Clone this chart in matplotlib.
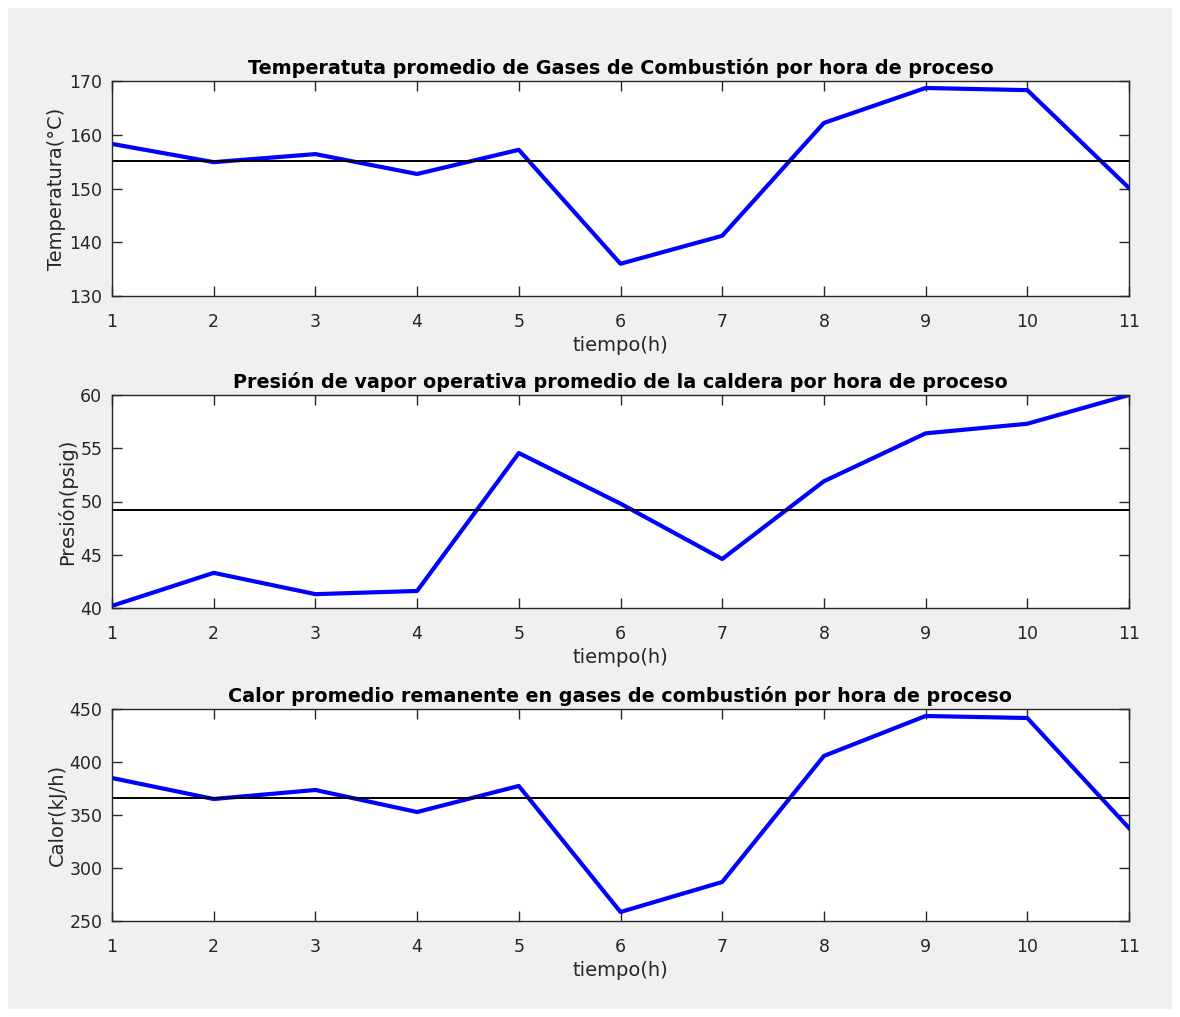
import numpy as np
import matplotlib
matplotlib.use("Agg")
import matplotlib.pyplot as plt
from matplotlib.patches import Rectangle

# data
horas = [1, 2, 3, 4, 5, 6, 7, 8, 9, 10, 11]
temperatura = [158.3, 154.9, 156.4, 152.7, 157.2, 136.0, 141.2, 162.2, 168.7, 168.3, 150.1]
presion = [40.2, 43.3, 41.3, 41.6, 54.55, 49.8, 44.6, 51.9, 56.4, 57.3, 60.0]
calor = [384.9, 365.1, 373.6, 352.8, 377.4, 258.5, 286.8, 405.7, 443.4, 441.5, 337.7]

titulos = [
    "Temperatuta promedio de Gases de Combustión por hora de proceso",
    "Presión de vapor operativa promedio de la caldera por hora de proceso",
    "Calor promedio remanente en gases de combustión por hora de proceso",
]
ylabels = ["Temperatura(°C)", "Presión(psig)", "Calor(kJ/h)"]
ylims = [(130, 170), (40, 60), (250, 450)]
yticks = [[130, 140, 150, 160, 170], [40, 45, 50, 55, 60], [250, 300, 350, 400, 450]]

TXT = "#262626"
plt.rcParams["font.family"] = ["DejaVu Sans"]

W, H = 1180, 1017
fig = plt.figure(figsize=(W / 100, H / 100), dpi=100, facecolor="white")
fig.patches.append(Rectangle((8 / W, 8 / H), 1 - 16 / W, 1 - 16 / H,
                             transform=fig.transFigure, facecolor="#f0f0f0",
                             edgecolor="none", zorder=-10))

# axes boxes in pixels (top, bottom)
cajas = [(81, 296), (395, 608), (709, 921)]
left, right = 112, 1129

for (top, bot), y, tit, yl, lim, yt in zip(cajas, [temperatura, presion, calor],
                                           titulos, ylabels, ylims, yticks):
    ax = fig.add_axes([left / W, 1 - bot / H, (right - left) / W, (bot - top) / H])
    ax.plot(horas, y, color="#0000ff", lw=3)
    ax.axhline(np.mean(y), color="black", lw=1.4)
    ax.set_xlim(1, 11)
    ax.set_ylim(*lim)
    ax.set_xticks(horas)
    ax.set_yticks(yt)
    ax.tick_params(direction="in", length=7, width=1, colors=TXT, labelsize=12.5,
                   top=True, right=True)
    ax.tick_params(axis="x", pad=12)
    ax.tick_params(axis="y", pad=7)
    for s in ax.spines.values():
        s.set_color(TXT)
        s.set_linewidth(1)
    ax.set_title(tit, fontsize=13.8, fontweight="bold", color="black", pad=5)
    ax.set_xlabel("tiempo(h)", color=TXT, fontsize=14, labelpad=4)
    ax.set_ylabel(yl, color=TXT, fontsize=14, labelpad=2)

fig.savefig("out.png", dpi=100, facecolor=fig.get_facecolor())
